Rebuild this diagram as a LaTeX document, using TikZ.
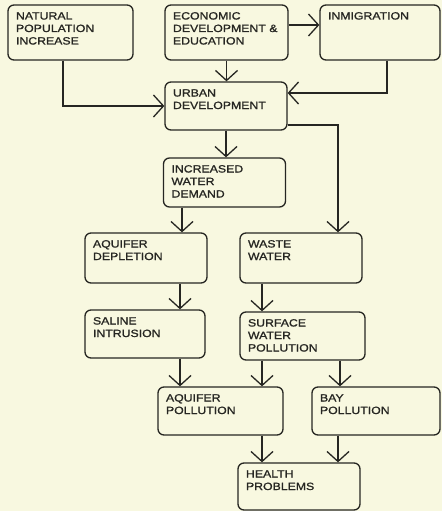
\documentclass[tikz,border=0pt]{standalone}
\usepackage{fontspec}
\setmainfont{Liberation Sans}[FakeStretch=1.17,FakeBold=1.2]
\usepackage{xcolor}
\usepackage{tikz}
\usetikzlibrary{arrows.meta,calc,positioning}
\definecolor{colorBG}{RGB}{248,248,224}
\definecolor{colorInk}{RGB}{38,38,34}
\tikzset{
   every path/.style={>={Straight Barb[length=10pt,width=22pt]}},
   flow/.style={->,draw=colorInk,line width=1.3pt},
}

\begin{document}
\begin{tikzpicture}[x=1pt,y=-1pt,
  box/.style={rectangle, rounded corners=6pt, draw=colorInk, line width=1.3pt, text=colorInk,
    align=left, text width=106pt, inner xsep=8pt, inner ysep=7pt,
    text height=7.5pt, text depth=26.5pt, font=\fontsize{10.5}{12.5}\selectfont},
  tallbox/.style={box, text depth=33.5pt}]
  \fill [colorBG] (0,0) rectangle (442,511);
  \useasboundingbox (0,0) rectangle (442,511);

  \node [tallbox, text width=109pt] (nat) at (70.5,32.5) {NATURAL\\POPULATION\\INCREASE};
  \node [tallbox, text width=107pt] (econ) at (226.5,32.5) {ECONOMIC\\DEVELOPMENT \&\\EDUCATION};
  \node [tallbox, text width=104pt] (inmig) at (380,32.5) {INMIGRATION};
  \node [box] (urban) at (226,106) {URBAN\\DEVELOPMENT};
  \node [box, text depth=27.5pt] (incr) at (224.5,182.5) {INCREASED\\WATER\\DEMAND};
  \node [box, text depth=28.5pt] (aqdep) at (146,258) {AQUIFER\\DEPLETION};
  \node [box, text depth=28.5pt] (waste) at (301,258) {WASTE\\WATER};
  \node [box, text width=104pt] (saline) at (145,334) {SALINE\\INTRUSION};
  \node [box, text width=109pt] (surf) at (302.5,336) {SURFACE\\WATER\\POLLUTION};
  \node [box, text width=109pt] (aqpol) at (220.5,411) {AQUIFER\\POLLUTION};
  \node [box, text width=112pt] (bay) at (376,411) {BAY\\POLLUTION};
  \node [box, text depth=25.5pt] (health) at (299,486.5) {HEALTH\\PROBLEMS};

  \begin{scope}[flow]
   \draw ([xshift=-7.5pt]nat.south) |- (urban.west);
   \draw (econ.south) -- (econ.south |- urban.north);
   \draw ([yshift=7.5pt]econ.east) -- ([yshift=7.5pt]econ.east -| inmig.west);
   \draw ([xshift=7pt]inmig.south) |- ([yshift=13pt]urban.east);
   \draw ([yshift=-19pt]urban.east) -| ([xshift=37pt]waste.north);
   \draw (urban.south) -- (urban.south |- incr.north);
   \draw ([xshift=-42.5pt]incr.south) -- ([xshift=-42.5pt]incr.south |- aqdep.north);
   \draw ([xshift=34pt]aqdep.south) -- ([xshift=34pt]aqdep.south |- saline.north);
   \draw ([xshift=-39pt]waste.south) -- ([xshift=-39pt]waste.south |- surf.north);
   \draw ([xshift=35pt]saline.south) -- ([xshift=35pt]saline.south |- aqpol.north);
   \draw ([xshift=-40.5pt]surf.south) -- ([xshift=-40.5pt]surf.south |- aqpol.north);
   \draw ([xshift=37.5pt]surf.south) -- ([xshift=37.5pt]surf.south |- bay.north);
   \draw ([xshift=41.5pt]aqpol.south) -- ([xshift=41.5pt]aqpol.south |- health.north);
   \draw ([xshift=-38pt]bay.south) -- ([xshift=-38pt]bay.south |- health.north);
  \end{scope}
\end{tikzpicture}
\end{document}
